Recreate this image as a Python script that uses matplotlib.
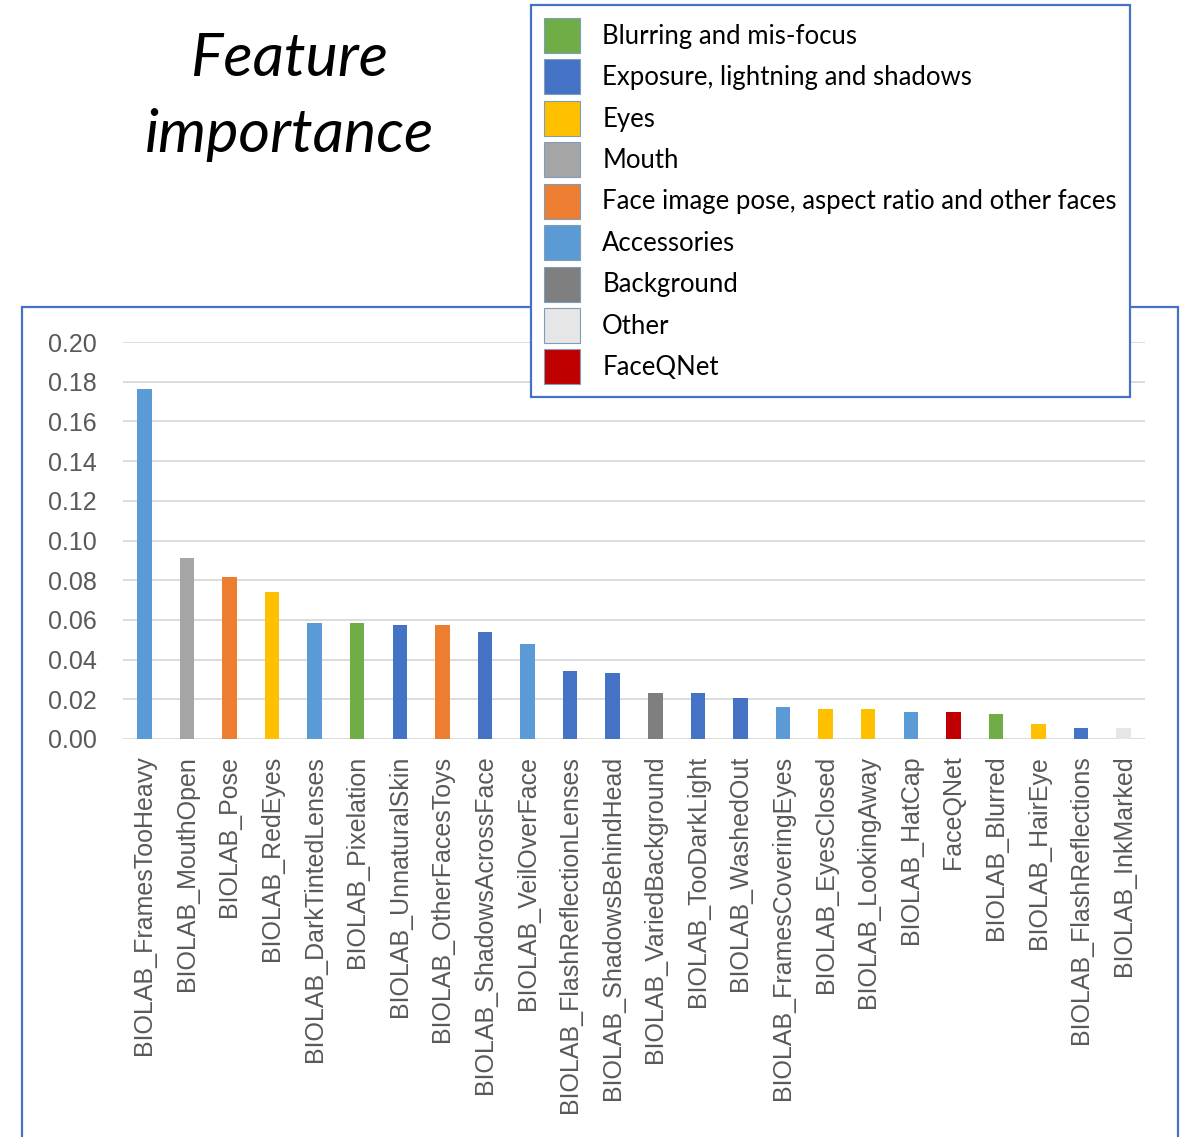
import matplotlib.pyplot as plt
from matplotlib.patches import Patch, Rectangle

# Feature groups and their colours
GROUPS = [
    'Blurring and mis-focus',
    'Exposure, lightning and shadows',
    'Eyes',
    'Mouth',
    'Face image pose, aspect ratio and other faces',
    'Accessories',
    'Background',
    'Other',
    'FaceQNet',
]
GROUP_COLORS = [
    '#70AD47', '#4472C4', '#FFC000', '#A5A5A5', '#ED7D31',
    '#5B9BD5', '#7F7F7F', '#E7E6E6', '#C00000',
]

FEATURES = [
    'BIOLAB_FramesTooHeavy', 'BIOLAB_MouthOpen', 'BIOLAB_Pose',
    'BIOLAB_RedEyes', 'BIOLAB_DarkTintedLenses', 'BIOLAB_Pixelation',
    'BIOLAB_UnnaturalSkin', 'BIOLAB_OtherFacesToys',
    'BIOLAB_ShadowsAcrossFace', 'BIOLAB_VeilOverFace',
    'BIOLAB_FlashReflectionLenses', 'BIOLAB_ShadowsBehindHead',
    'BIOLAB_VariedBackground', 'BIOLAB_TooDarkLight', 'BIOLAB_WashedOut',
    'BIOLAB_FramesCoveringEyes', 'BIOLAB_EyesClosed', 'BIOLAB_LookingAway',
    'BIOLAB_HatCap', 'FaceQNet', 'BIOLAB_Blurred', 'BIOLAB_HairEye',
    'BIOLAB_FlashReflections', 'BIOLAB_InkMarked',
]
IMPORTANCE = [
    0.1762, 0.0912, 0.0815, 0.0743, 0.0586, 0.0586, 0.0574, 0.0574,
    0.0539, 0.0477, 0.0343, 0.0331, 0.0234, 0.0234, 0.0209, 0.0161,
    0.0149, 0.0149, 0.0137, 0.0137, 0.0126, 0.0077, 0.0054, 0.0054,
]
FEATURE_GROUP = [
    'Accessories', 'Mouth', 'Face image pose, aspect ratio and other faces',
    'Eyes', 'Accessories', 'Blurring and mis-focus',
    'Exposure, lightning and shadows',
    'Face image pose, aspect ratio and other faces',
    'Exposure, lightning and shadows', 'Accessories',
    'Exposure, lightning and shadows', 'Exposure, lightning and shadows',
    'Background', 'Exposure, lightning and shadows',
    'Exposure, lightning and shadows', 'Accessories', 'Eyes', 'Eyes',
    'Accessories', 'FaceQNet', 'Blurring and mis-focus', 'Eyes',
    'Exposure, lightning and shadows', 'Other',
]
Y_TICKS = [0.00, 0.02, 0.04, 0.06, 0.08, 0.10, 0.12, 0.14, 0.16, 0.18, 0.20]

W, H = 1189, 1137
BORDER = '#4472C4'
TICK_COLOR = '#595959'

color_of = dict(zip(GROUPS, GROUP_COLORS))

fig = plt.figure(figsize=(W / 100, H / 100), dpi=100)

# outer chart frame (its bottom edge runs off the canvas)
fig.patches.append(Rectangle(
    (22 / W, -0.01), (1178 - 22) / W, 0.01 + 1 - 307 / H,
    transform=fig.transFigure, fill=False, edgecolor=BORDER, lw=1.6, zorder=1))

ax = fig.add_axes([123 / W, 1 - 739 / H, (1145 - 123) / W, (739 - 342) / H])
x = range(len(FEATURES))
ax.bar(x, IMPORTANCE, width=0.34,
       color=[color_of[g] for g in FEATURE_GROUP], zorder=3)

ax.set_xlim(-0.5, len(FEATURES) - 0.5)
ax.set_ylim(0, 0.20)
ax.set_yticks(Y_TICKS)
ax.set_yticklabels([f'{v:.2f}' for v in Y_TICKS])
ax.set_xticks(list(x))
ax.set_xticklabels(FEATURES, rotation=90)
ax.yaxis.grid(True, color='#D9D9D9', lw=1.3, zorder=0)
ax.set_axisbelow(True)
for side in ax.spines.values():
    side.set_visible(False)
ax.tick_params(axis='y', length=0, pad=19, labelsize=18, labelcolor=TICK_COLOR)
ax.tick_params(axis='x', length=0, pad=12, labelsize=18, labelcolor=TICK_COLOR)
for lbl in ax.get_xticklabels() + ax.get_yticklabels():
    lbl.set_fontfamily('Liberation Sans')

fig.text(290 / W, 1 - 97 / H, 'Feature\nimportance', ha='center', va='center',
         fontsize=44, style='italic', family='Lato', linespacing=1.52)

handles = [Patch(facecolor=c, edgecolor='#7F9DB9', lw=0.8) for c in GROUP_COLORS]
leg = fig.legend(
    handles, GROUPS, loc='upper left', bbox_to_anchor=(531 / W, 1 - 5 / H),
    prop={'family': 'Lato', 'size': 18.5}, frameon=True, fancybox=False,
    edgecolor=BORDER, framealpha=1, handlelength=1.39, handleheight=1.72,
    labelspacing=0.25, borderpad=0.5, handletextpad=0.88, borderaxespad=0)
leg.get_frame().set_linewidth(1.6)
leg.set_zorder(10)

fig.savefig('out.png', dpi=100)
